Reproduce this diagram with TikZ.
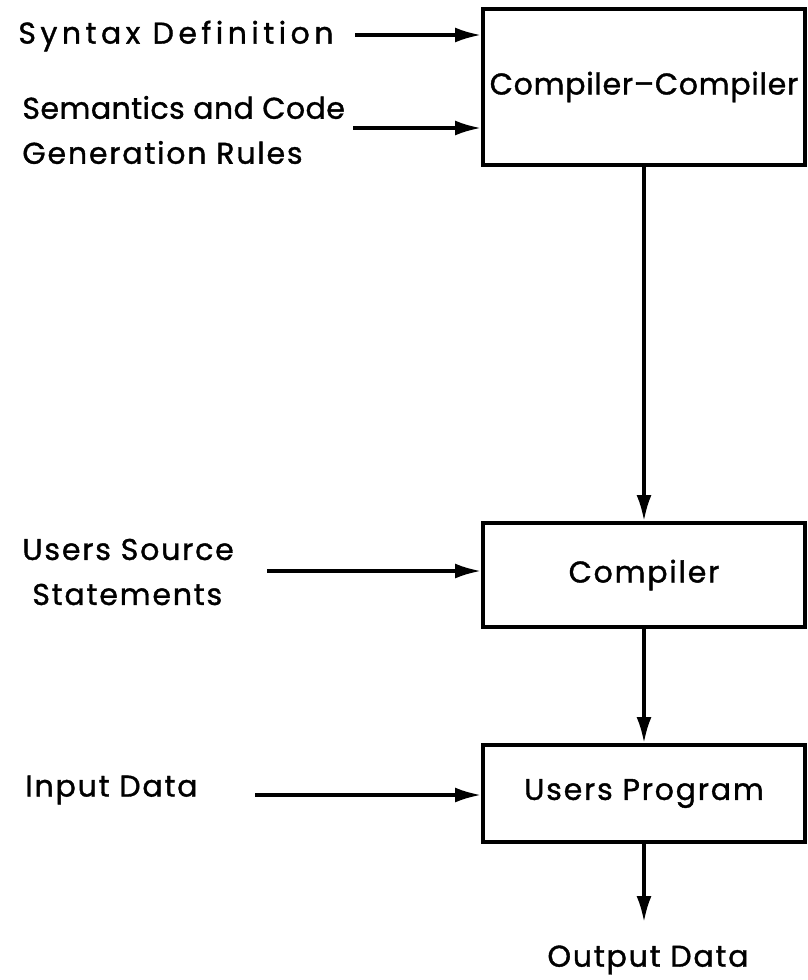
\documentclass[tikz,border=0pt]{standalone}
\usepackage{fontspec}
\setmainfont{Poppins}[LetterSpace=6,FakeBold=1.2]
\usetikzlibrary{arrows.meta}
\newcommand{\spacing}[1]{\addfontfeature{LetterSpace=#1}}
\begin{document}
\begin{tikzpicture}[x=0.5pt,y=-0.5pt,
  every node/.style={font=\fontsize{15}{22.5}\selectfont},
  stage/.style={draw,line width=2pt,rectangle,inner sep=0pt},
  label/.style={anchor=west,align=left,inner sep=0pt},
  flow/.style={line width=1.6pt,-{Latex[length=13pt,width=7.5pt]}}]
  \useasboundingbox (0,0) rectangle (808,980);

  % processing stages
  \node[stage,minimum width=161pt,minimum height=78pt] (cc) at (644,87) {\spacing{2.5}Compiler--Compiler};
  \node[stage,minimum width=161pt,minimum height=52pt] (comp) at (644,575) {Compiler};
  \node[stage,minimum width=161pt,minimum height=48.5pt] (up) at (644,793.5) {Users Program};

  % inputs and outputs
  \node[label] (syn) at (18,36) {\spacing{15}Syntax Definition};
  \node[label] (sem) at (22,130) {\spacing{1.5}Semantics and Code\\\spacing{6}Generation Rules};
  \node[label] (src) at (22,572) {Users Source\\\hspace{5pt}Statements};
  \node[label] (inp) at (25,790) {Input Data};
  \node (out) at (648,960) {Output Data};

  % arrow start points
  \coordinate (a1) at (355,35);
  \coordinate (a2) at (353,128);
  \coordinate (a3) at (267,571);
  \coordinate (a4) at (255,795);
  \coordinate (a5) at (644,922);

  \draw[flow] (a1) -- (a1 -| cc.west);
  \draw[flow] (a2) -- (a2 -| cc.west);
  \draw[flow] (a3) -- (a3 -| comp.west);
  \draw[flow] (a4) -- (a4 -| up.west);
  \draw[flow] (cc.south) -- (comp.north);
  \draw[flow] (comp.south) -- (up.north);
  \draw[flow] (up.south) -- (a5);
\end{tikzpicture}
\end{document}
